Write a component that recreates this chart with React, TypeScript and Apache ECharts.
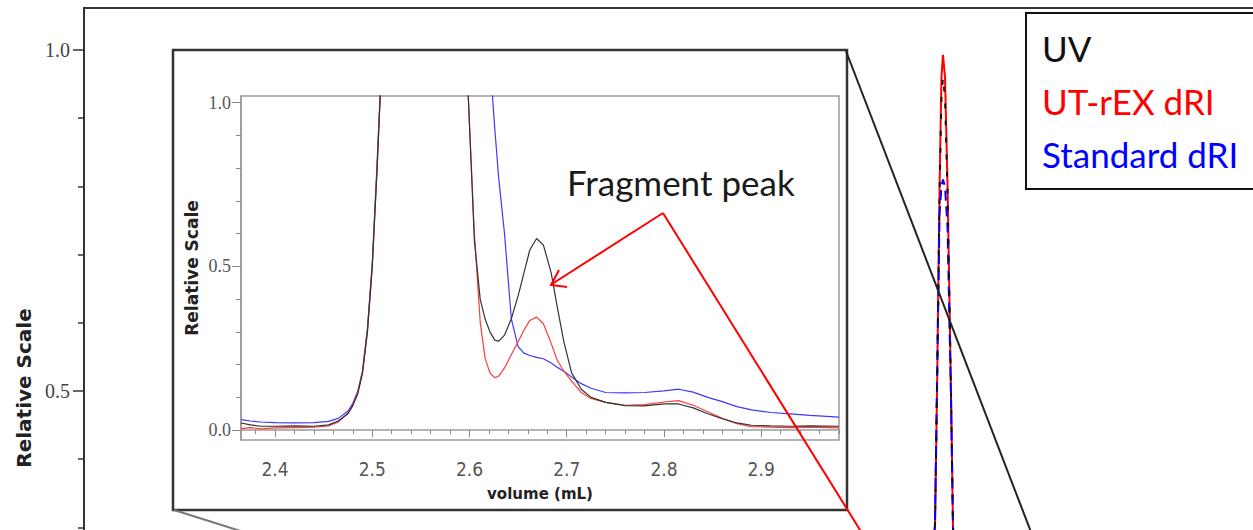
import { useEffect, useRef } from "react";
import * as echarts from "echarts";

const seriesNames = ["UV", "UT-rEX dRI", "Standard dRI"];
const legendColors = ["#111111", "#ff0000", "#0000ff"];

// Outer (full) chromatogram, hidden time axis
const outerTime = [6.0, 6.63, 6.706, 6.722, 6.742, 6.757, 6.769, 6.785, 6.805, 6.832, 6.848, 6.92, 7.5];
const outerUV = [0.01, 0.02, 0.3, 0.5, 0.79, 0.93, 0.96, 0.93, 0.79, 0.5, 0.3, 0.02, 0.01];
const outerUTrEX = [0.01, 0.02, 0.3, 0.5, 0.8, 0.96, 0.993, 0.96, 0.8, 0.5, 0.3, 0.02, 0.01];
const outerStandard = [0.02, 0.03, 0.31, 0.51, 0.76, 0.8, 0.81, 0.8, 0.74, 0.49, 0.3, 0.03, 0.02];
const outerYMajorTicks = [0.5, 1.0];
const outerYMinorTicks = [0.1, 0.2, 0.3, 0.4, 0.6, 0.7, 0.8, 0.9];

// Inset (zoomed) chromatogram, volume in mL
const insetVolume = [
  2.365, 2.375, 2.385, 2.4, 2.42, 2.44, 2.455, 2.465, 2.475, 2.48, 2.485, 2.49, 2.495, 2.5, 2.505, 2.51,
  2.555, 2.595, 2.599, 2.605, 2.611, 2.616, 2.621, 2.626, 2.63, 2.636, 2.643, 2.65, 2.656, 2.662, 2.669,
  2.676, 2.684, 2.69, 2.697, 2.705, 2.715, 2.725, 2.74, 2.76, 2.78, 2.8, 2.815, 2.83, 2.845, 2.86, 2.875,
  2.89, 2.91, 2.93, 2.95, 2.98,
];
const insetUV = [
  0.022, 0.016, 0.012, 0.012, 0.013, 0.012, 0.016, 0.028, 0.05, 0.075, 0.11, 0.175, 0.3, 0.5, 0.8, 1.15,
  3.0, 1.25, 1.0, 0.58, 0.4, 0.34, 0.3, 0.275, 0.272, 0.29, 0.34, 0.41, 0.48, 0.55, 0.585,
  0.565, 0.48, 0.38, 0.27, 0.175, 0.125, 0.1, 0.085, 0.075, 0.074, 0.08, 0.08, 0.068, 0.05, 0.035, 0.022,
  0.015, 0.013, 0.012, 0.013, 0.012,
];
const insetUTrEX = [
  0.005, 0.008, 0.004, 0.007, 0.008, 0.009, 0.013, 0.025, 0.052, 0.078, 0.112, 0.178, 0.3, 0.5, 0.8, 1.15,
  3.0, 1.25, 1.0, 0.6, 0.33, 0.22, 0.175, 0.16, 0.165, 0.19, 0.23, 0.27, 0.305, 0.335, 0.345,
  0.325, 0.265, 0.215, 0.18, 0.15, 0.115, 0.097, 0.085, 0.076, 0.078, 0.086, 0.09, 0.076, 0.056, 0.036, 0.02,
  0.011, 0.009, 0.008, 0.009, 0.007,
];
const insetStandard = [
  0.032, 0.028, 0.025, 0.023, 0.022, 0.023, 0.027, 0.036, 0.058, 0.082, 0.118, 0.182, 0.31, 0.51, 0.82, 1.15,
  3.0, 3.0, 2.5, 2.0, 1.6, 1.35, 1.13, 0.92, 0.77, 0.6, 0.34, 0.255, 0.235, 0.228, 0.222,
  0.218, 0.205, 0.192, 0.18, 0.162, 0.142, 0.128, 0.115, 0.114, 0.115, 0.12, 0.125, 0.116, 0.1, 0.087, 0.072,
  0.062, 0.054, 0.05, 0.045, 0.04,
];
const insetXMajorTicks = [2.4, 2.5, 2.6, 2.7, 2.8, 2.9];
const insetXMinorTicks = [
  2.38, 2.4, 2.42, 2.44, 2.46, 2.48, 2.5, 2.52, 2.54, 2.56, 2.58, 2.6, 2.62, 2.64, 2.66, 2.68, 2.7,
  2.72, 2.74, 2.76, 2.78, 2.8, 2.82, 2.84, 2.86, 2.88, 2.9, 2.92, 2.94, 2.96, 2.98,
];
const insetYMajorTicks = [0, 0.5, 1.0];
const insetYMinorTicks = [0.1, 0.2, 0.3, 0.4, 0.6, 0.7, 0.8, 0.9];

const pairs = (xs: number[], ys: number[]) => xs.map((x, i) => [x, ys[i]]);

export default function App() {
  const ref = useRef<HTMLDivElement>(null);

  useEffect(() => {
    document.body.style.margin = "0";
    if (!ref.current) return;
    const chart = echarts.init(ref.current, null, { renderer: "svg" });

    const insetTickFont = {
      fontFamily: "'Liberation Sans Narrow', 'DejaVu Sans Condensed', sans-serif",
      fontSize: 19,
      color: "#555",
    };

    const option: any = {
      animation: false,
      backgroundColor: "#ffffff",
      legend: {
        left: 1026,
        top: 13,
        orient: "vertical",
        icon: "rect",
        itemWidth: 0,
        itemHeight: 0,
        itemGap: 13,
        padding: [15, 70, 15, 11],
        backgroundColor: "#ffffff",
        borderColor: "#111",
        borderWidth: 2,
        selectedMode: false,
        textStyle: { fontFamily: "Lato", fontSize: 35, lineHeight: 40 },
        data: seriesNames.map((n, i) => ({ name: n, textStyle: { color: legendColors[i] } })),
      },
      grid: [
        { left: 84, top: 8, right: -100, bottom: -202, show: true, borderColor: "#333", borderWidth: 2, outerBoundsMode: "none" },
        { left: 241, top: 96, right: 414, bottom: 90, show: true, borderColor: "#9a9a9a", borderWidth: 1.5, backgroundColor: "#ffffff", outerBoundsMode: "none" },
      ],
      xAxis: [
        { gridIndex: 0, type: "value", min: 0, max: 10, show: false },
        {
          gridIndex: 1, type: "value", min: 2.365, max: 2.98, position: "bottom",
          axisLine: { show: true, lineStyle: { color: "#9a9a9a", width: 1.5 } },
          axisTick: { show: true, length: 4, customValues: insetXMinorTicks, lineStyle: { color: "#888" } },
          axisLabel: { show: false },
          splitLine: { show: false },
        },
        {
          gridIndex: 1, type: "value", min: 2.365, max: 2.98, position: "bottom",
          axisLine: { show: false },
          axisTick: { show: true, length: 7, customValues: insetXMajorTicks, lineStyle: { color: "#888" } },
          axisLabel: { show: true, customValues: insetXMajorTicks, formatter: (v: number) => v.toFixed(1), margin: 19, ...insetTickFont },
          splitLine: { show: false },
          name: "volume (mL)",
          nameLocation: "middle",
          nameGap: 46,
          nameTextStyle: { fontFamily: "DejaVu Sans", fontWeight: "bold", fontSize: 15, color: "#222" },
        },
      ],
      yAxis: [
        {
          gridIndex: 0, type: "value", min: 0, max: 1.0616, position: "left",
          axisLine: { show: true, lineStyle: { color: "#333", width: 2 } },
          axisTick: { show: true, length: 11, customValues: outerYMajorTicks, lineStyle: { color: "#333", width: 1.5 } },
          axisLabel: { show: true, customValues: outerYMajorTicks, formatter: (v: number) => v.toFixed(1), margin: 14, fontFamily: "'Liberation Serif', serif", fontSize: 20, color: "#444" },
          splitLine: { show: false },
        },
        {
          gridIndex: 0, type: "value", min: 0, max: 1.0616, position: "left",
          axisLine: { show: false },
          axisTick: { show: true, length: 6, customValues: outerYMinorTicks, lineStyle: { color: "#333", width: 1.5 } },
          axisLabel: { show: false },
          splitLine: { show: false },
        },
        {
          gridIndex: 1, type: "value", min: -0.03, max: 1.02, position: "left",
          axisLine: { show: true, lineStyle: { color: "#9a9a9a", width: 1.5 } },
          axisTick: { show: true, length: 5, customValues: insetYMinorTicks, lineStyle: { color: "#888" } },
          axisLabel: { show: false },
          splitLine: { show: false },
        },
        {
          gridIndex: 1, type: "value", min: -0.03, max: 1.02, position: "left",
          axisLine: { show: false },
          axisTick: { show: true, length: 9, customValues: insetYMajorTicks, lineStyle: { color: "#888" } },
          axisLabel: { show: true, customValues: insetYMajorTicks, formatter: (v: number) => v.toFixed(1), margin: 10, fontFamily: "'Liberation Serif', serif", fontSize: 18, color: "#555" },
          splitLine: { show: false },
          name: "Relative Scale",
          nameLocation: "middle",
          nameGap: 41,
          nameTextStyle: { fontFamily: "DejaVu Sans", fontWeight: "bold", fontSize: 17, color: "#222" },
        },
      ],
      series: [
        { name: seriesNames[1], type: "line", xAxisIndex: 0, yAxisIndex: 0, symbol: "none", data: pairs(outerTime, outerUTrEX), lineStyle: { color: "#ff0000", width: 2 }, itemStyle: { color: "#ff0000" } },
        { name: seriesNames[2], type: "line", xAxisIndex: 0, yAxisIndex: 0, symbol: "none", data: pairs(outerTime, outerStandard), lineStyle: { color: "#0000ff", width: 2, type: [10, 6] }, itemStyle: { color: "#0000ff" } },
        { name: seriesNames[0], type: "line", xAxisIndex: 0, yAxisIndex: 0, symbol: "none", data: pairs(outerTime, outerUV), lineStyle: { color: "#111", width: 2, type: [5, 12] }, itemStyle: { color: "#111" } },
        { name: seriesNames[2], type: "line", xAxisIndex: 1, yAxisIndex: 2, symbol: "none", data: pairs(insetVolume, insetStandard), lineStyle: { color: "#3a3aff", width: 1.2 }, itemStyle: { color: "#0000ff" } },
        { name: seriesNames[1], type: "line", xAxisIndex: 1, yAxisIndex: 2, symbol: "none", data: pairs(insetVolume, insetUTrEX), lineStyle: { color: "#ff3b3b", width: 1.2 }, itemStyle: { color: "#ff0000" } },
        { name: seriesNames[0], type: "line", xAxisIndex: 1, yAxisIndex: 2, symbol: "none", data: pairs(insetVolume, insetUV), lineStyle: { color: "#333", width: 1.2 }, itemStyle: { color: "#111" } },
      ],
      graphic: [
        { type: "rect", z: -10, shape: { x: 173, y: 50, width: 674, height: 460 }, style: { fill: "#ffffff", stroke: "#333", lineWidth: 2.5 } },
        { type: "line", z: 20, shape: { x1: 846, y1: 51, x2: 1036, y2: 545 }, style: { stroke: "#222", lineWidth: 2 } },
        { type: "line", z: 20, shape: { x1: 174, y1: 510, x2: 250, y2: 534 }, style: { stroke: "#777", lineWidth: 2 } },
        { type: "line", z: 20, shape: { x1: 663, y1: 213, x2: 552, y2: 284 }, style: { stroke: "#ff0000", lineWidth: 2 } },
        { type: "polyline", z: 20, shape: { points: [[559, 270], [551, 285], [567, 287]] }, style: { stroke: "#ff0000", lineWidth: 2, fill: "none" } },
        { type: "line", z: 20, shape: { x1: 663, y1: 213, x2: 870, y2: 546 }, style: { stroke: "#ff0000", lineWidth: 2 } },
        { type: "text", z: 20, x: 567, y: 182, style: { text: "Fragment peak", fontFamily: "Lato", fontSize: 35, fill: "#1a1a1a", textAlign: "left", textVerticalAlign: "middle" } },
        { type: "text", z: 20, x: 24, y: 388, rotation: Math.PI / 2, style: { text: "Relative Scale", fontFamily: "DejaVu Sans", fontWeight: "bold", fontSize: 20, fill: "#222", textAlign: "center", textVerticalAlign: "middle" } },
      ],
    };

    chart.setOption(option);
    return () => chart.dispose();
  }, []);

  return <div ref={ref} style={{ width: 1253, height: 530 }} />;
}
